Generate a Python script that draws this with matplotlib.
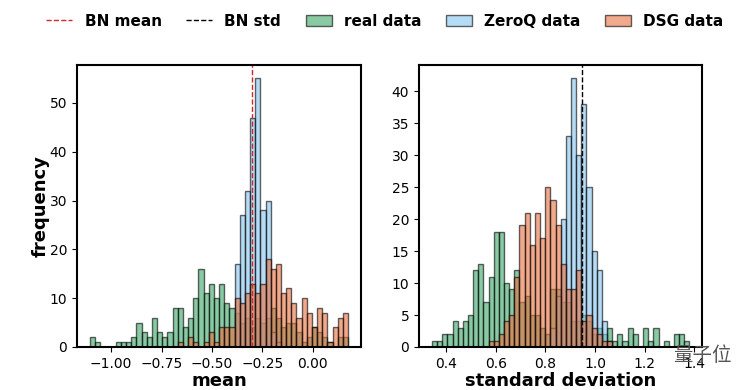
import numpy as np
import matplotlib
matplotlib.use("Agg")
import matplotlib.pyplot as plt
from matplotlib.lines import Line2D
from matplotlib.patches import Patch

# data range of the 50 shared bins in each panel
mean_range = (-1.105, 0.1755)
std_range = (0.343, 1.380)

bn_mean_line = -0.301
bn_std_line = 0.949

# per-bin counts, 50 bins, BN mean panel
real_mean = [2, 1, 0, 0, 0, 1, 1, 1, 2, 5, 3, 2, 6, 3, 2, 3, 8, 8, 4, 6,
             10, 16, 11, 13, 10, 13, 9, 8, 7, 5, 6, 4, 6, 5, 6, 8, 6, 4, 5, 5,
             3, 1, 2, 4, 3, 2, 1, 0, 2, 2]
zeroq_mean = [0] * 28 + [17, 27, 32, 47, 55, 28, 30, 3, 1] + [0] * 13
dsg_mean = [0] * 17 + [1, 0, 2, 1, 0, 1, 3, 1, 4, 4, 4,
                       10, 9, 11, 13, 11, 13, 18, 16, 17, 11, 12, 9, 6, 10,
                       7, 4, 8, 7, 1, 4, 6, 7]

# per-bin counts, 50 bins, BN std panel
real_std = [1, 1, 2, 2, 4, 3, 4, 5, 12, 13, 7, 11, 18, 18, 10, 9, 12, 7, 8, 5,
            5, 3, 2, 9, 9, 7, 7, 4, 4, 5, 4, 2, 3, 2, 3, 1, 2, 1, 3, 2,
            0, 3, 1, 3, 0, 1, 0, 2, 2, 1]
zeroq_std = [0] * 23 + [3, 8, 20, 33, 42, 30, 38, 25, 15, 12, 4, 1] + [0] * 15
dsg_std = [0] * 11 + [1, 1, 2, 4, 5, 11, 19, 21, 16, 21, 17, 25, 23, 19, 13,
                      9, 9, 12, 4, 5, 3, 2, 1, 1] + [0] * 15

c_real = "#3aa668"
c_zeroq = "#85c3ef"
c_dsg = "#e8703f"


def panel(ax, rng, real, zeroq, dsg, vline, vcolor, xlabel):
    edges = np.linspace(rng[0], rng[1], 51)
    centers = (edges[:-1] + edges[1:]) / 2
    ax.axvline(vline, color=vcolor, linestyle="--", linewidth=1)
    for vals, col in [(real, c_real), (zeroq, c_zeroq), (dsg, c_dsg)]:
        ax.hist(centers, bins=edges, weights=vals, color=col, alpha=0.6,
                edgecolor="black", linewidth=1)
    ax.set_xlabel(xlabel, fontsize=13, fontweight="bold", labelpad=1)
    ax.tick_params(labelsize=10)
    for s in ax.spines.values():
        s.set_linewidth(1.5)


fig = plt.figure(figsize=(7.5, 3.9), dpi=100)
ax1 = fig.add_axes([0.1027, 0.1103, 0.3787, 0.723])
ax2 = fig.add_axes([0.5587, 0.1103, 0.3777, 0.723])

panel(ax1, mean_range, real_mean, zeroq_mean, dsg_mean,
      bn_mean_line, "#d62728", "mean")
panel(ax2, std_range, real_std, zeroq_std, dsg_std,
      bn_std_line, "black", "standard deviation")
ax1.set_ylabel("frequency", fontsize=13, fontweight="bold", labelpad=0)
ax1.set_xticks([-1.0, -0.75, -0.5, -0.25, 0.0])
ax1.set_xticklabels(["−1.00", "−0.75", "−0.50", "−0.25", "0.00"])

handles = [
    Line2D([], [], color="#d62728", linestyle="--", linewidth=1),
    Line2D([], [], color="black", linestyle="--", linewidth=1),
    Patch(facecolor=c_real, alpha=0.6, edgecolor="black"),
    Patch(facecolor=c_zeroq, alpha=0.6, edgecolor="black"),
    Patch(facecolor=c_dsg, alpha=0.6, edgecolor="black"),
]
labels = ["BN mean", "BN std", "real data", "ZeroQ data", "DSG data"]
fig.legend(handles, labels, loc="upper center", bbox_to_anchor=(0.513, 1.0),
           ncol=5, frameon=False, prop={"weight": "bold", "size": 11},
           handlelength=1.7, handletextpad=0.8, columnspacing=1.6)

# watermark
fig.text(0.897, 0.075, "量子位", fontsize=14, color="#555555",
         family=["Noto Sans CJK SC", "DejaVu Sans"])

fig.savefig("out.png", dpi=100)
